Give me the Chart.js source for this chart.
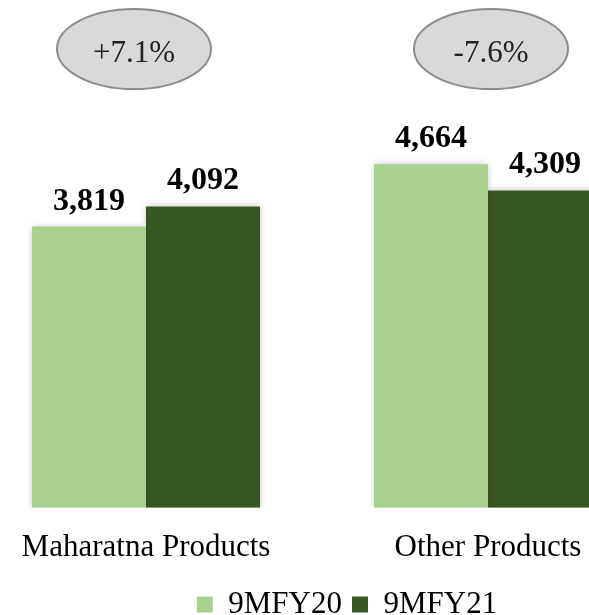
<!DOCTYPE html>
<html>
<head>
<meta charset="utf-8">
<script src="https://cdn.jsdelivr.net/npm/chart.js@4.4.0/dist/chart.umd.min.js"></script>
<style>
  html, body { margin: 0; padding: 0; background: #fff; overflow: hidden; }
  body { width: 589px; height: 615px; position: relative; }
  #wrap { position: absolute; left: -25px; top: 0; width: 744px; height: 630px; }
</style>
</head>
<body>
<div id="wrap"><canvas id="chart" width="744" height="630"></canvas></div>
<script>
const categories = ['Maharatna Products', 'Other Products']
const fy20Values = [3819, 4664]
const fy21Values = [4092, 4309]
const seriesNames = ['9MFY20', '9MFY21']
const growthLabels = ['+7.1%', '-7.6%']

const serif = '"Liberation Serif", "Times New Roman", serif'

// value labels above bars, shadows, and the grey growth bubbles
const decorPlugin = {
  id: 'decor',
  beforeDatasetsDraw(chart) {
    const ctx = chart.ctx
    ctx.save()
    ctx.shadowColor = 'rgba(0, 0, 0, 0.22)'
    ctx.shadowBlur = 7
  },
  afterDatasetsDraw(chart) {
    const ctx = chart.ctx
    ctx.restore()

    ctx.save()
    ctx.font = 'bold 32px ' + serif
    ctx.fillStyle = '#000'
    ctx.textAlign = 'center'
    ctx.textBaseline = 'alphabetic'
    chart.data.datasets.forEach((ds, di) => {
      chart.getDatasetMeta(di).data.forEach((bar, i) => {
        ctx.fillText(ds.data[i].toLocaleString('en-US'), bar.x, bar.y - 17)
      })
    })
    ctx.restore()

    // growth bubbles
    const xScale = chart.scales.x
    const shifts = [-12, 3]
    ctx.save()
    growthLabels.forEach((txt, i) => {
      const cx = xScale.getPixelForValue(i) + shifts[i]
      const cy = 49
      ctx.beginPath()
      ctx.ellipse(cx, cy, 77, 40, 0, 0, Math.PI * 2)
      ctx.fillStyle = '#d9d9d9'
      ctx.fill()
      ctx.lineWidth = 2
      ctx.strokeStyle = '#8c8c8c'
      ctx.stroke()
      ctx.font = '31px ' + serif
      ctx.fillStyle = '#222'
      ctx.textAlign = 'center'
      ctx.textBaseline = 'alphabetic'
      ctx.fillText(txt, cx, 62)
    })
    ctx.restore()
  }
}

new Chart(document.getElementById('chart'), {
  type: 'bar',
  data: {
    labels: categories,
    datasets: [
      {
        label: seriesNames[0],
        data: fy20Values,
        backgroundColor: '#a9d18e',
        categoryPercentage: 0.667,
        barPercentage: 1
      },
      {
        label: seriesNames[1],
        data: fy21Values,
        backgroundColor: '#385723',
        categoryPercentage: 0.667,
        barPercentage: 1
      }
    ]
  },
  options: {
    responsive: false,
    animation: false,
    layout: {
      padding: { left: 0, right: 0, top: 7, bottom: 0 }
    },
    plugins: {
      legend: {
        position: 'bottom',
        labels: {
          boxWidth: 16,
          boxHeight: 16,
          padding: 10,
          color: '#000',
          font: { family: serif, size: 31 }
        }
      },
      tooltip: { enabled: false }
    },
    scales: {
      x: {
        grid: { display: false },
        border: { display: false },
        ticks: {
          color: '#000',
          padding: 13,
          font: { family: serif, size: 31 }
        }
      },
      y: {
        position: 'right',
        min: 0,
        max: 6800,
        grid: { display: false },
        border: { display: false },
        ticks: { display: false },
        // empty strip on the right so the legend sits off-centre like the original
        afterFit(scale) { scale.width = 60 }
      }
    }
  },
  plugins: [decorPlugin]
})
</script>
</body>
</html>
